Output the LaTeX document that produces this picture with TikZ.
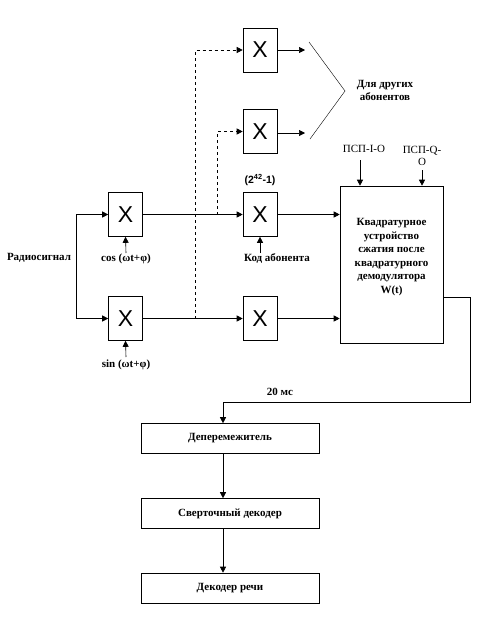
\documentclass[tikz,border=0pt]{standalone}
\usepackage{fontspec}
\setmainfont{Liberation Serif}
\newfontfamily\xsans{Liberation Sans}
\usetikzlibrary{arrows.meta}
\begin{document}
\begin{tikzpicture}[x=1pt,y=-1pt,
  ln/.style={line width=0.6pt},
  arr/.style={ln,-{Triangle[length=6pt,width=6pt]}},
  xbox/.style={draw,line width=0.6pt,minimum width=34pt,minimum height=44pt,inner sep=0pt,font=\xsans\fontsize{23}{23}\selectfont},
  lbl/.style={font=\bfseries\fontsize{11}{12}\selectfont,inner sep=0pt},
  rlbl/.style={font=\fontsize{11}{12}\selectfont,inner sep=0pt},
  blk/.style={draw,line width=0.6pt,minimum width=178pt,minimum height=30pt,inner sep=0pt,font=\bfseries\fontsize{11}{12}\selectfont}]
\useasboundingbox (0,0) rectangle (490,624);
% multipliers
\node[xbox] (x1) at (260,50) {X};
\node[xbox] (x2) at (260,131.5) {X};
\node[xbox] (xc) at (125.5,214.5) {X};
\node[xbox] (xk) at (260,214.5) {X};
\node[xbox] (xs) at (125.5,318.5) {X};
\node[xbox] (xb) at (260,318.5) {X};
% big box
\node[draw,line width=0.6pt,minimum width=103pt,minimum height=157pt,inner sep=0pt] (big) at (391.5,264.5) {};
\node[lbl,align=center,font=\bfseries\fontsize{11}{13.5}\selectfont] (bigt) at (391.5,257) {Квадратурное\\устройство\\сжатия после\\квадратурного\\демодулятора\\W(t)};
% lower blocks
\node[blk] (b1) at (230,438.5) {Деперемежитель};
\node[blk] (b2) at (230,513.5) {Сверточный декодер};
\node[blk] (b3) at (230,588) {Декодер речи};
% labels
\node[lbl] (rs) at (39,258) {Радиосигнал};
\node[lbl] (cosl) at (126,259) {cos (ωt+φ)};
\node[lbl] (sinl) at (126,365) {sin (ωt+φ)};
\node[lbl] (kod) at (277,259) {Код абонента};
\node[font=\xsans\bfseries\fontsize{10.5}{12}\selectfont,inner sep=0pt] (pw) at (260,180) {(2\textsuperscript{42}-1)};
\node[lbl,align=center] (dl) at (385,90) {Для других\\[1pt]абонентов};
\node[rlbl] (pi) at (364,149) {ПСП-I-O};
\node[rlbl,align=center] (pq) at (422,156) {ПСП-Q-\\O};
\node[lbl] (ms) at (280,392) {20 мс};
% coordinates
\coordinate (ra) at (76,214.5);
\coordinate (rb) at (76,318.5);
\coordinate (j1) at (195,318.5);
\coordinate (j2) at (217,214.5);
\coordinate (o1) at (305,50);
\coordinate (o2) at (305,133);
\coordinate (br1) at (309,42);
\coordinate (br2) at (345,91);
\coordinate (br3) at (310,139);
\coordinate (pia) at (360,160);
\coordinate (pqa) at (422,170);
\coordinate (ca) at (126,253);
\coordinate (sa) at (126,357);
\coordinate (ka) at (260,253);
\coordinate (out) at (443,297);
\coordinate (c20) at (223,402);
% connectors
\draw[ln] (ra) -- (rb);
\draw[arr] (ra) -- (xc.west);
\draw[arr] (rb) -- (xs.west);
\draw[arr] (xc.east) -- (xk.west);
\draw[arr] (xs.east) -- (xb.west);
\draw[arr] (xk.east) -- (big.west |- xk.east);
\draw[arr] (xb.east) -- (big.west |- xb.east);
\draw[arr,dashed] (j1) |- (x1.west);
\draw[arr,dashed] (j2) |- (x2.west);
\draw[arr] (x1.east) -- (o1);
\draw[arr] (x2.east |- o2) -- (o2);
\draw[line width=0.4pt] (br1) -- (br2) -- (br3);
\draw[arr] (ca) -- (xc.south);
\draw[arr] (sa) -- (xs.south);
\draw[arr] (ka) -- (xk.south);
\draw[arr] (pia) -- (big.north -| pia);
\draw[arr] (pqa) -- (big.north -| pqa);
\draw[arr] (out) -- ++(27,0) |- (c20) -- (b1.north -| c20);
\draw[arr] (b1.south -| c20) -- (b2.north -| c20);
\draw[arr] (b2.south -| c20) -- (b3.north -| c20);
\end{tikzpicture}
\end{document}
